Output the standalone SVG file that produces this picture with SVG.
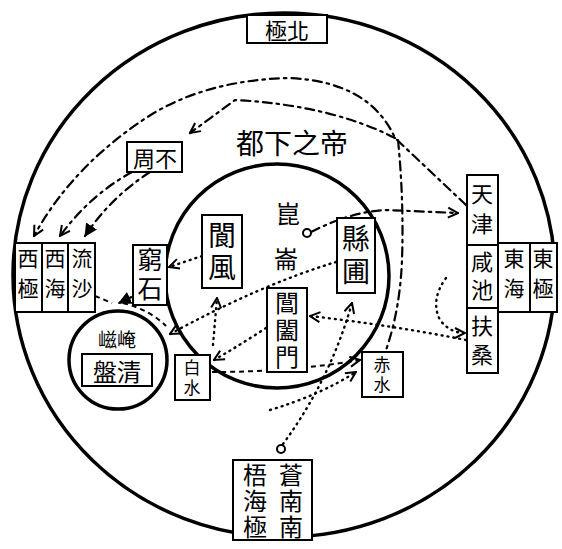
<svg xmlns="http://www.w3.org/2000/svg" width="562" height="549" viewBox="0 0 562 549">
<style>
.cjk{font-family:"Noto Sans CJK TC","Noto Sans CJK SC",sans-serif;fill:#000;text-anchor:middle;dominant-baseline:central}
.v{writing-mode:vertical-rl}
.box{fill:#fff;stroke:#000;stroke-width:2}
.sep{stroke:#000;stroke-width:2}
.ring{fill:none;stroke:#000;stroke-width:3.5}
.dd{fill:none;stroke:#000;stroke-width:2.2;stroke-dasharray:9 5 2.5 5;stroke-linecap:round}
.dt{fill:none;stroke:#000;stroke-width:2.4;stroke-dasharray:1 5;stroke-linecap:round}
.ds{fill:none;stroke:#000;stroke-width:2;stroke-dasharray:5 4}
</style>
<defs>
<marker id="open" viewBox="0 0 12 12" refX="11" refY="6" markerWidth="12" markerHeight="12" markerUnits="userSpaceOnUse" orient="auto">
<path d="M1,1 L11,6 L1,11" fill="none" stroke="#000" stroke-width="2"/>
</marker>
<marker id="fill" viewBox="0 0 12 12" refX="11" refY="6" markerWidth="13" markerHeight="13" markerUnits="userSpaceOnUse" orient="auto">
<path d="M0,0 L12,6 L0,12 Z" fill="#000"/>
</marker>
</defs>
<rect width="562" height="549" fill="#fff"/>
<ellipse class="ring" cx="284" cy="275" rx="271" ry="262"/>
<circle class="ring" cx="277" cy="276" r="112"/>
<circle class="ring" cx="118" cy="360" r="49" stroke-width="3"/>

<g id="connectors">
<path class="dd" d="M466,205 L395,138 Q370,82 290,78 Q200,80 140,122 Q70,170 34,236" marker-end="url(#open)"/>
<path class="dd" d="M395,138 Q330,105 235,100 L190,133" marker-end="url(#open)"/>
<path class="dd" d="M132,172 Q90,195 60,236" marker-end="url(#open)"/>
<path class="dd" d="M150,172 Q110,198 85,236" marker-end="url(#fill)"/>
<path class="dd" d="M311,232 Q350,212 385,210 L458,213" marker-end="url(#open)"/>
<path class="dd" d="M398,140 Q404,200 402,260 Q400,310 386,350"/>
<path class="dt" d="M336,262 Q260,285 170,334" marker-end="url(#open)"/>
<path class="dt" d="M202,256 L169,267" marker-end="url(#open)"/>
<path class="dt" d="M142,292 L119,303" marker-end="url(#fill)"/>
<path class="ds" d="M95,296 L112,303"/>
<path class="ds" d="M123,303 Q150,310 166,326"/>
<path class="dt" d="M266,328 Q240,345 214,360" marker-end="url(#open)"/>
<path class="dt" d="M466,340 Q390,325 310,316" marker-end="url(#open)"/>
<path class="dt" d="M446,278 Q430,300 440,320 Q450,333 465,333" marker-end="url(#open)"/>
<path class="dt" d="M283,444 Q330,380 352,303" marker-end="url(#open)"/>
<path class="dt" d="M213,345 L217,298" marker-end="url(#open)"/>
<path class="ds" d="M212,372 Q290,372 360,360" marker-end="url(#open)"/>
<path class="dt" d="M270,410 Q320,395 356,372" marker-end="url(#open)"/>
</g>

<g id="beiji"><rect class="box" x="247" y="15" width="80" height="28"/><text class="cjk" x="287" y="29" font-size="22">極北</text></g>
<g id="dixiadu"><text class="cjk" x="292" y="142" font-size="28">都下之帝</text></g>
<g id="buzhou"><rect class="box" x="127" y="142" width="55" height="30"/><text class="cjk" x="155" y="157" font-size="22">周不</text></g>
<g id="xi">
<rect class="box" x="15" y="243" width="80" height="69"/>
<line class="sep" x1="42" y1="243" x2="42" y2="312"/>
<line class="sep" x1="68" y1="243" x2="68" y2="312"/>
<text class="cjk v" x="28" y="278" font-size="21" letter-spacing="9">西極</text>
<text class="cjk v" x="55" y="278" font-size="21" letter-spacing="9">西海</text>
<text class="cjk v" x="82" y="278" font-size="21" letter-spacing="9">流沙</text>
</g>
<g id="qiongshi"><rect class="box" x="133" y="245" width="34" height="60"/><text class="cjk v" x="150" y="276" font-size="25" letter-spacing="4">窮石</text></g>
<g id="langfeng"><rect class="box" x="202" y="215" width="40" height="73"/><text class="cjk v" x="222" y="253" font-size="28" letter-spacing="4">閬風</text></g>
<g id="kunlun"><text class="cjk" x="288" y="212" font-size="24">崑</text><text class="cjk" x="286" y="257" font-size="24">崙</text><circle cx="307" cy="233" r="4" fill="#fff" stroke="#000" stroke-width="2"/></g>
<g id="xuanpu"><rect class="box" x="337" y="218" width="38" height="75"/><text class="cjk v" x="356" y="257" font-size="28" letter-spacing="5">縣圃</text></g>
<g id="changhe"><rect class="box" x="267" y="288" width="40" height="84"/><text class="cjk v" x="287" y="331" font-size="24" letter-spacing="3">閶闔門</text></g>
<g id="chishui"><rect class="box" x="362" y="352" width="41" height="45"/><text class="cjk v" x="382" y="376" font-size="17" letter-spacing="3">赤水</text></g>
<g id="baishui"><rect class="box" x="175" y="355" width="35" height="45"/><text class="cjk v" x="192" y="379" font-size="17" letter-spacing="3">白水</text></g>
<g id="yanzi"><text class="cjk" x="117" y="338" font-size="19" style="font-family:'Noto Sans CJK JP','Noto Sans CJK TC',sans-serif">嵫崦</text><rect class="box" x="82" y="354" width="70" height="32"/><text class="cjk" x="117" y="370" font-size="24">盤清</text></g>
<g id="tianjin">
<rect class="box" x="467" y="175" width="31" height="198"/>
<line class="sep" x1="467" y1="245" x2="498" y2="245"/>
<line class="sep" x1="467" y1="308" x2="498" y2="308"/>
<text class="cjk v" x="482" y="213" font-size="22" letter-spacing="8">天津</text>
<text class="cjk v" x="482" y="279" font-size="22" letter-spacing="6">咸池</text>
<text class="cjk v" x="482" y="344" font-size="22" letter-spacing="7">扶桑</text>
</g>
<g id="dong">
<rect class="box" x="498" y="243" width="59" height="69"/>
<line class="sep" x1="530" y1="243" x2="530" y2="312"/>
<text class="cjk v" x="514" y="278" font-size="21" letter-spacing="9">東海</text>
<text class="cjk v" x="543" y="278" font-size="21" letter-spacing="9">東極</text>
</g>
<g id="cangwu">
<rect class="box" x="233" y="460" width="79" height="80"/>
<text class="cjk v" x="255" y="502" font-size="24" letter-spacing="2">梧海極</text>
<text class="cjk v" x="291" y="502" font-size="24" letter-spacing="2">蒼南南</text>
<circle cx="281" cy="449" r="4" fill="#fff" stroke="#000" stroke-width="2"/>
</g>
</svg>
